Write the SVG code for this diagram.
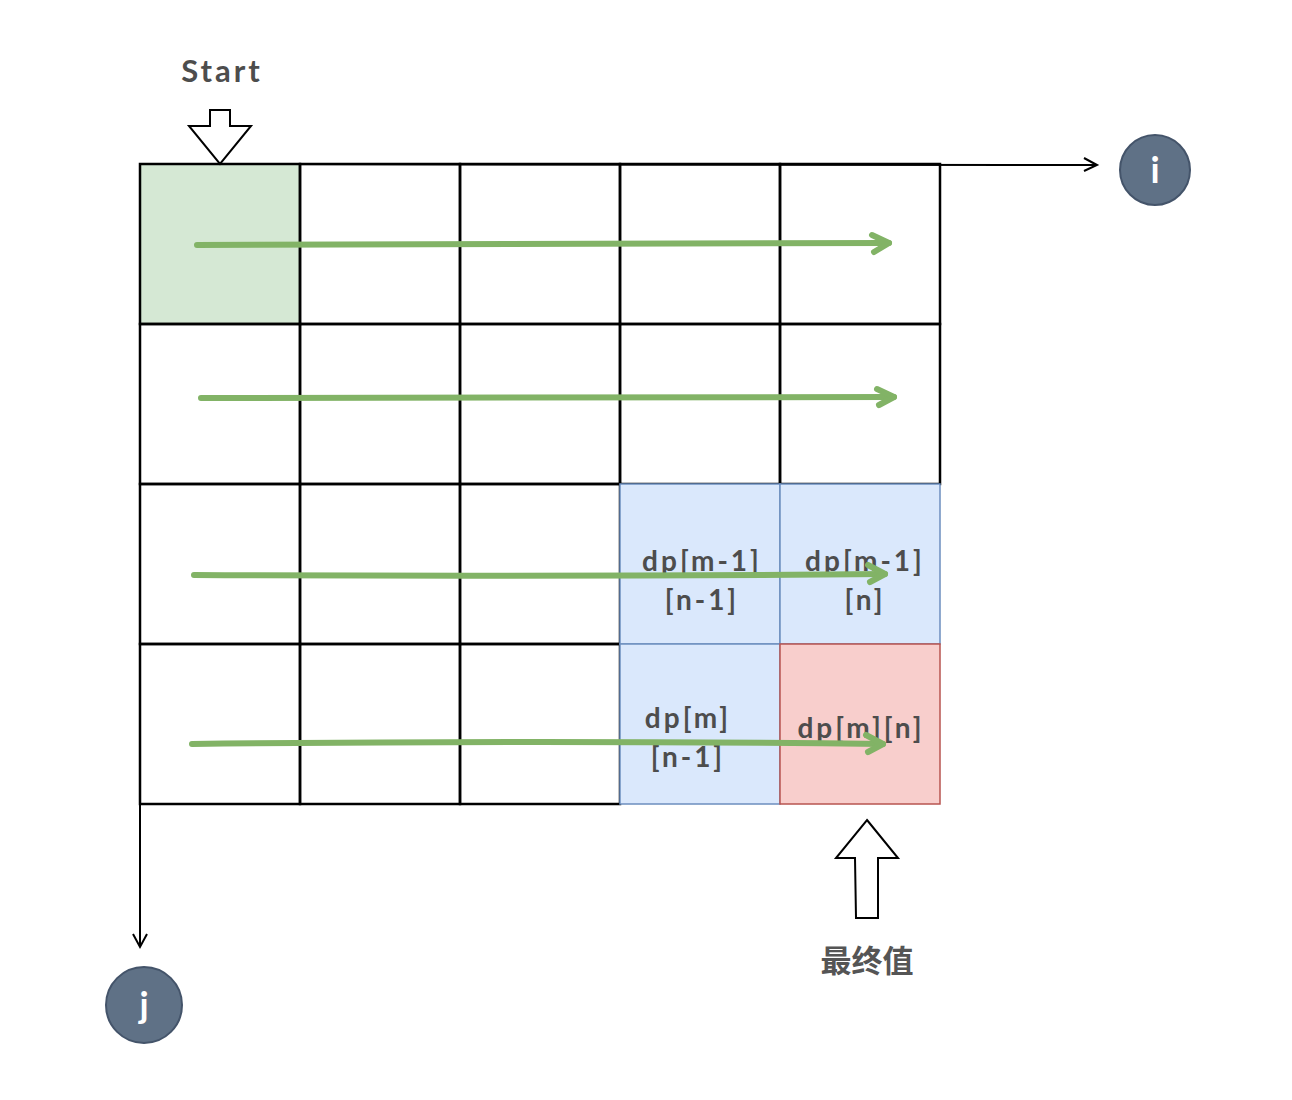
<svg xmlns="http://www.w3.org/2000/svg" width="1292" height="1100" viewBox="0 0 1292 1100">
<style>
.cell{fill:none;stroke:#000;stroke-width:2.5}
.blue{fill:#dae8fc;stroke:#6c8ebf;stroke-width:1.5}
.red{fill:#f8cecc;stroke:#b85450;stroke-width:1.5}
.green{fill:#d5e8d4;stroke:#000;stroke-width:2.5}
.lbl{font-family:"Comic Sans MS","Lato","Liberation Sans",sans-serif;font-size:28px;font-weight:bold;letter-spacing:3px;fill:#4d4d4d;text-anchor:middle}
.flow{fill:none;stroke:#82b366;stroke-width:6;stroke-linecap:round;stroke-linejoin:round}
.axis{fill:none;stroke:#000;stroke-width:2}
.circ{fill:#5f7186;stroke:#44546a;stroke-width:2}
.ctext{font-family:"Lato","Liberation Sans",sans-serif;font-size:36px;font-weight:bold;fill:#fff;text-anchor:middle}
.bigarrow{fill:#fff;stroke:#000;stroke-width:2;stroke-linejoin:miter}
</style>
<rect width="1292" height="1100" fill="#fff"/>
<g id="connectors">
<line class="axis" x1="140" y1="164" x2="1096" y2="165"/>
<polyline class="axis" points="1084,158 1097,165 1084,171"/>
<line class="axis" x1="140" y1="164" x2="140" y2="946"/>
<polyline class="axis" points="133,934 140,947 147,934"/>
</g>
<g id="grid">
<rect class="green" x="140" y="164" width="160" height="160"/>
<rect class="cell" x="300" y="164" width="160" height="160"/>
<rect class="cell" x="460" y="164" width="160" height="160"/>
<rect class="cell" x="620" y="164" width="160" height="160"/>
<rect class="cell" x="780" y="164" width="160" height="160"/>
<rect class="cell" x="140" y="324" width="160" height="160"/>
<rect class="cell" x="300" y="324" width="160" height="160"/>
<rect class="cell" x="460" y="324" width="160" height="160"/>
<rect class="cell" x="620" y="324" width="160" height="160"/>
<rect class="cell" x="780" y="324" width="160" height="160"/>
<rect class="cell" x="140" y="484" width="160" height="160"/>
<rect class="cell" x="300" y="484" width="160" height="160"/>
<rect class="cell" x="460" y="484" width="160" height="160"/>
<rect class="cell" x="140" y="644" width="160" height="160"/>
<rect class="cell" x="300" y="644" width="160" height="160"/>
<rect class="cell" x="460" y="644" width="160" height="160"/>
</g>
<g id="cell-dp-m1-n1">
<rect class="blue" x="620" y="484" width="160" height="160"/>
<text class="lbl" x="702" y="571">dp[m-1]</text>
<text class="lbl" x="702" y="610">[n-1]</text>
</g>
<g id="cell-dp-m1-n">
<rect class="blue" x="780" y="484" width="160" height="160"/>
<text class="lbl" x="865" y="571">dp[m-1]</text>
<text class="lbl" x="865" y="610">[n]</text>
</g>
<g id="cell-dp-m-n1">
<rect class="blue" x="620" y="644" width="160" height="160"/>
<text class="lbl" x="688" y="728">dp[m]</text>
<text class="lbl" x="688" y="767">[n-1]</text>
</g>
<g id="cell-dp-m-n">
<rect class="red" x="780" y="644" width="160" height="160"/>
<text class="lbl" x="861" y="738">dp[m][n]</text>
</g>
<g id="flows">
<path class="flow" d="M197,245 Q540,243 889,243"/>
<polyline class="flow" points="872,235 889,243 874,252"/>
<path class="flow" d="M201,398 Q550,398 894,397"/>
<polyline class="flow" points="877,389 894,397 879,405"/>
<path class="flow" d="M194,575 Q540,577 885,574"/>
<polyline class="flow" points="868,565 885,574 870,582"/>
<path class="flow" d="M192,744 Q540,740 883,744"/>
<polyline class="flow" points="866,735 883,744 868,752"/>
</g>
<g id="start">
<text x="222" y="82" style="font-family:'Comic Sans MS','Lato','Liberation Sans',sans-serif;font-size:31px;font-weight:bold;letter-spacing:3px;fill:#4d4d4d;text-anchor:middle">Start</text>
<polygon class="bigarrow" points="210,110 230,110 230,126 251,126 220,164 189,126 210,126"/>
</g>
<g id="final">
<polygon class="bigarrow" points="867,820 898,858 878,858 878,918 856,918 855,858 836,858"/>
<text x="867" y="972" style="font-family:'Noto Sans CJK SC',sans-serif;font-size:31px;font-weight:bold;fill:#555;text-anchor:middle">最终值</text>
</g>
<g id="node-i">
<circle class="circ" cx="1155" cy="170" r="35"/>
<text class="ctext" x="1155" y="183">i</text>
</g>
<g id="node-j">
<circle class="circ" cx="144" cy="1005" r="38"/>
<text class="ctext" x="144" y="1018">j</text>
</g>
</svg>
